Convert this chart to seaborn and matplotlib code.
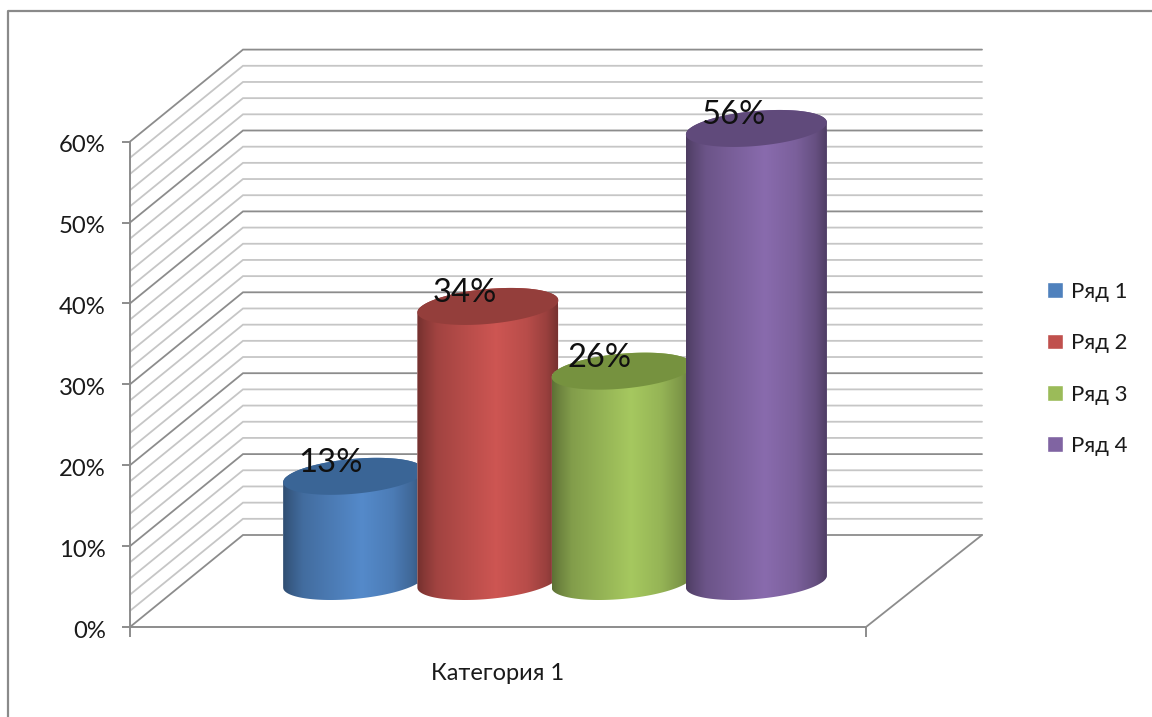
import numpy as np
import pandas as pd
import seaborn as sns
import matplotlib
matplotlib.use("Agg")
import matplotlib.pyplot as plt
from matplotlib.lines import Line2D
from matplotlib.path import Path
from matplotlib.patches import PathPatch, Polygon
from matplotlib.colors import LinearSegmentedColormap, to_rgb
from matplotlib.transforms import ScaledTranslation

# ---- data ----
category = ["Категория 1"]
series = ["Ряд 1", "Ряд 2", "Ряд 3", "Ряд 4"]
values = [13, 34, 26, 56]
colors = ["#4F81BD", "#C0504D", "#9BBB59", "#8064A2"]
top_colors = ["#3A6596", "#943E3B", "#76923F", "#604A7B"]
y_ticks = [0, 10, 20, 30, 40, 50, 60]

W, H = 1152, 717
PX = 8.09  # pixels per percentage point

sns.set_theme(style="white")
plt.rcParams["font.family"] = ["Lato", "Open Sans", "DejaVu Sans"]
TXT = "#1a1a1a"
GRAY = "#8c8c8c"
MAJOR = "#8c8c8c"
MINOR = "#c6c6c6"

fig = plt.figure(figsize=(W / 100, H / 100), dpi=100, facecolor="white")


def axes_px(x0, x1, ytop, ybot):
    return fig.add_axes([x0 / W, 1 - ybot / H, (x1 - x0) / W, (ybot - ytop) / H])


# ---- chart frame ----
fig.add_artist(Line2D([8 / W, 8 / W, 1], [0, 1 - 11 / H, 1 - 11 / H],
                      color="#8a8a8a", lw=1.6, transform=fig.transFigure))

# ---- front plane: value axis, walls and floor ----
front = axes_px(130, 866, 627 - 60 * PX, 627)
front.set_xlim(130, 866)
front.set_ylim(0, 60)
front.patch.set_alpha(0)
depth_y = 92 / PX
back_left, back_right = 243, 982
for v in range(0, 62, 2):
    major = v % 10 == 0
    front.plot([130, back_left, back_right], [v, v + depth_y, v + depth_y],
               color=MAJOR if major else MINOR, lw=1.3,
               clip_on=False, zorder=1, solid_joinstyle="miter")
front.plot([866, back_right], [0, depth_y], color=GRAY, lw=1.3, clip_on=False, zorder=1)
for s in ["top", "right"]:
    front.spines[s].set_visible(False)
for s in ["left", "bottom"]:
    front.spines[s].set_color(GRAY)
    front.spines[s].set_linewidth(1.4)
front.set_yticks(y_ticks)
front.set_yticklabels([f"{v}%" for v in y_ticks], fontsize=17.2, color=TXT)
front.set_xticks([130, 866])
front.set_xticklabels(["", ""])
front.tick_params(axis="y", left=True, length=6, width=1.4, color=GRAY, pad=11.5)
front.tick_params(axis="x", bottom=True, length=7.5, width=1.4, color=GRAY)
front.set_xlabel(category[0], fontsize=17, color=TXT, labelpad=15)
front.grid(False)
shift = ScaledTranslation(0, -2 / 100, fig.dpi_scale_trans)
for lab in front.get_yticklabels():
    lab.set_transform(lab.get_transform() + shift)

# ---- cylinders: plane through the middle of the floor ----
base_px = 581.5
x0_px, x1_px = 286.5, 823.5
pad_px = 40
ylo, yhi = -6, 66
ax = axes_px(x0_px - pad_px, x1_px + pad_px, base_px - yhi * PX, base_px - ylo * PX)
df = pd.DataFrame({"cat": category * len(series), "series": series, "value": values})
sns.barplot(data=df, x="cat", y="value", hue="series", hue_order=series,
            palette=dict(zip(series, colors)), saturation=1, width=1, gap=-0.05,
            ax=ax, legend=True, zorder=2)
sx = 1 / (x1_px - x0_px)
xlims = (-0.5 - pad_px * sx, 0.5 + pad_px * sx)
ax.patch.set_alpha(0)
ax.set_axis_off()

shear_x, shear_y = 23.0, 18.5


def ell(cx, cy, half_w, t):
    r = np.sqrt(half_w ** 2 - shear_x ** 2)
    return np.c_[cx + (r * np.cos(t) + shear_x * np.sin(t)) * sx,
                 cy + shear_y * np.sin(t) / PX]


shade_pos = [0.0, 0.05, 0.14, 0.30, 0.56, 0.78, 0.92, 1.0]
shade_val = [0.60, 0.70, 0.84, 0.93, 1.07, 0.96, 0.80, 0.62]

for i, (bar, val) in enumerate(zip(ax.containers[0:4], values)):
    p = bar[0]
    cx = p.get_x() + p.get_width() / 2
    half_w = p.get_width() / 2 / sx
    r = np.sqrt(half_w ** 2 - shear_x ** 2)
    t0 = np.arctan2(shear_x, r)
    low = ell(cx, 0, half_w, np.linspace(t0 + np.pi, t0 + 2 * np.pi, 80))
    up = ell(cx, val, half_w, np.linspace(t0, t0 + np.pi, 80))
    sil = Path(np.vstack([low, up, low[:1]]), closed=True)
    z = 3 + i
    p.set_zorder(z)
    p.set_clip_path(sil, ax.transData)
    base = np.array(to_rgb(colors[i]))
    cmap = LinearSegmentedColormap.from_list(
        f"c{i}", [(q, tuple(np.clip(base * s, 0, 1))) for q, s in zip(shade_pos, shade_val)])
    im = ax.imshow(np.linspace(0, 1, 256)[None, :], cmap=cmap, aspect="auto",
                   extent=(p.get_x(), p.get_x() + p.get_width(), -5, val + 5),
                   zorder=z + 0.1, interpolation="bilinear")
    im.set_clip_path(PathPatch(sil, transform=ax.transData))
    top = ell(cx, val, half_w, np.linspace(0, 2 * np.pi, 160))
    ax.add_patch(Polygon(top, closed=True, fc=top_colors[i], ec="none", zorder=z + 0.2))
    ax.annotate(f"{val}%", xy=(cx, val), xytext=(-23, 13), textcoords="offset pixels",
                ha="center", va="center", fontsize=23.6, color="#101010", zorder=20)

ax.set_xlim(*xlims)
ax.set_ylim(ylo, yhi)

# ---- legend ----
sns.move_legend(ax, loc="center left", bbox_to_anchor=(1047 / W, 1 - 369 / H),
                bbox_transform=fig.transFigure, title=None, frameon=False, fontsize=16,
                handlelength=0.72, handleheight=0.72, handletextpad=0.34,
                labelspacing=1.41, borderpad=0, borderaxespad=0, labelcolor=TXT)

fig.savefig("out.png", dpi=100, facecolor="white")
